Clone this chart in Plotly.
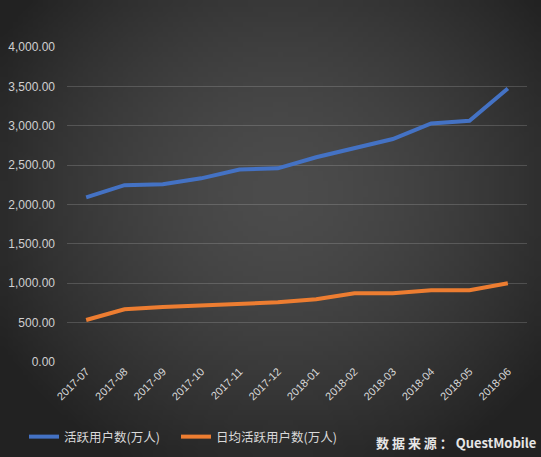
import base64
import struct
import zlib

import numpy as np
import plotly.graph_objects as go

months = ['2017-07', '2017-08', '2017-09', '2017-10', '2017-11', '2017-12',
          '2018-01', '2018-02', '2018-03', '2018-04', '2018-05', '2018-06']
active_users = [2090, 2245, 2258, 2332, 2445, 2459, 2600, 2722, 2832, 3030, 3064, 3472]
daily_active = [533, 669, 698, 720, 737, 758, 796, 873, 873, 911, 911, 1000]

W, H = 541, 457
L, R, T, B = 67, 14, 47, 95
pw, ph = W - L - R, H - T - B


def vignette_png(w=108, h=92):
    # radial dark-grey gradient, lighter near the middle
    yy, xx = np.mgrid[0:h, 0:w]
    d = np.sqrt(((xx / (w - 1) - 0.52) / 0.5) ** 2 + ((yy / (h - 1) - 0.42) / 0.55) ** 2)
    v = np.clip(76 - 30 * d ** 1.6, 34, 80).astype(np.uint8)
    img = np.dstack([v, v, v])
    raw = b''.join(b'\x00' + row.tobytes() for row in img)

    def chunk(tag, data):
        c = tag + data
        return struct.pack('>I', len(data)) + c + struct.pack('>I', zlib.crc32(c) & 0xffffffff)

    png = (b'\x89PNG\r\n\x1a\n'
           + chunk(b'IHDR', struct.pack('>IIBBBBB', w, h, 8, 2, 0, 0, 0))
           + chunk(b'IDAT', zlib.compress(raw, 9))
           + chunk(b'IEND', b''))
    return 'data:image/png;base64,' + base64.b64encode(png).decode()


def py(pix):
    # pixel row -> paper y
    return (T + ph - pix) / ph


font = 'Noto Sans CJK SC'
legend_style = dict(orientation='h', xref='container', yref='container',
                    xanchor='left', yanchor='middle', bgcolor='rgba(0,0,0,0)',
                    font=dict(family=font, size=12.5, color='#d9d9d9'),
                    itemwidth=30)

fig = go.Figure()
fig.add_trace(go.Scatter(x=months, y=active_users, mode='lines',
                         name='活跃用户数(万人)', legend='legend',
                         line=dict(color='#4472C4', width=4)))
fig.add_trace(go.Scatter(x=months, y=daily_active, mode='lines',
                         name='日均活跃用户数(万人)', legend='legend2',
                         line=dict(color='#ED7D31', width=4)))

fig.add_layout_image(dict(source=vignette_png(), xref='paper', yref='paper',
                          x=-L / pw, y=1 + T / ph, sizex=W / pw, sizey=H / ph,
                          xanchor='left', yanchor='top', sizing='stretch',
                          layer='below'))

fig.add_annotation(text='<b>数 据 来 源 ： QuestMobile</b>', xref='paper', yref='paper',
                   x=(538 - L) / pw, y=py(442),
                   xanchor='right', yanchor='middle', showarrow=False,
                   font=dict(family=font, size=13, color='#e6e6e6'))

fig.update_layout(
    width=W, height=H,
    margin=dict(l=L, r=R, t=T, b=B, autoexpand=False),
    paper_bgcolor='#333333',
    plot_bgcolor='rgba(0,0,0,0)',
    font=dict(family=font, color='#d9d9d9'),
    showlegend=True,
    legend=dict(legend_style, x=24 / W, y=(H - 437) / H),
    legend2=dict(legend_style, x=176 / W, y=(H - 437) / H),
)
fig.update_xaxes(type='category', range=[-0.5, len(months) - 0.5], tickangle=-45,
                 showgrid=False, showline=False, ticks='',
                 tickfont=dict(family='Liberation Sans', size=11, color='#d9d9d9'))
fig.update_yaxes(range=[0, 4000], dtick=500, tickformat=',.2f', showline=False,
                 gridcolor='rgba(255,255,255,0.16)', gridwidth=1, zeroline=False,
                 ticks='', ticklen=0, ticklabelstandoff=11,
                 tickfont=dict(family='Liberation Sans', size=12, color='#d0d0d0'))

fig.write_html('out.html', config={'displayModeBar': False},
               post_script="document.body.style.margin='0';")
